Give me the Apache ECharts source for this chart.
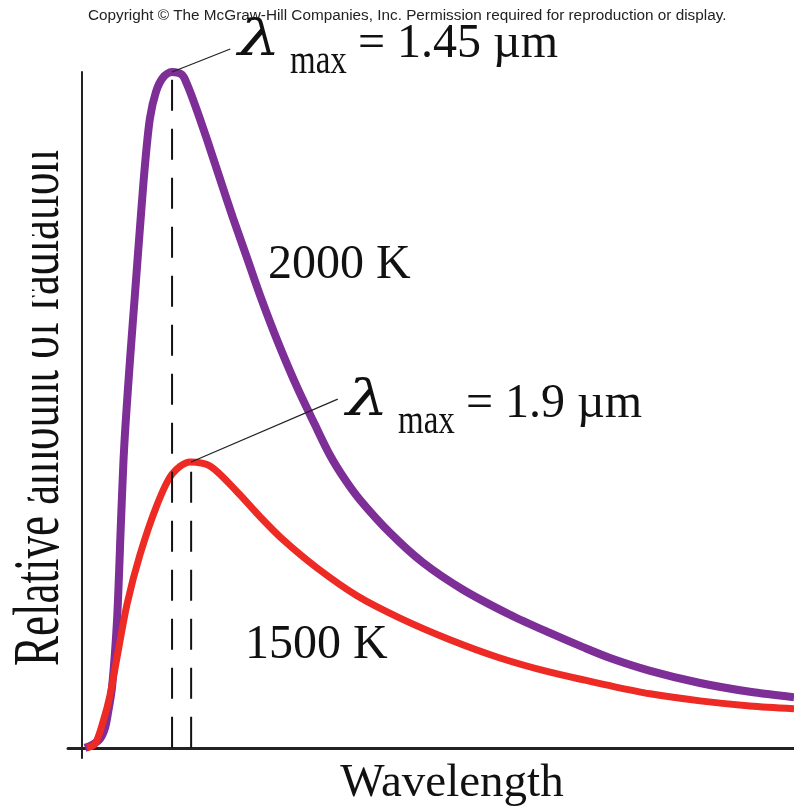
<!DOCTYPE html>
<html lang="en">
<head>
<meta charset="UTF-8">
<title>Blackbody radiation</title>
<script src="https://cdn.jsdelivr.net/npm/echarts@6.0.0/dist/echarts.min.js"></script>
<style>
    html, body { margin: 0; padding: 0; background: #fff; }
    #main { width: 794px; height: 808px; }
</style>
</head>
<body>
<div id="main"></div>
<script>
    // wavelength in arbitrary units (0 = origin), relative amount (2000 K peak = 100)
    var x2000 = [0.39, 1.38, 2.5, 3.2, 3.62, 4.19, 4.89, 5.45, 5.8, 6.08, 6.71, 7.42, 8.12, 8.82, 9.52, 10.37, 11.35, 12.62, 14.0, 14.72, 15.85, 17.53, 19.35, 21.18, 23.15, 24.97, 27.36, 30.17, 32.7, 34.81, 36.92, 39.02, 43.25, 47.88, 53.5, 60.1, 65.7, 70.35, 74.15, 79.8, 86.8, 93.8, 100];
    var y2000 = [0, 0.44, 1.33, 2.96, 5.18, 9.0, 18.9, 33.7, 42.6, 47.8, 57.4, 67.3, 77.1, 86.3, 93.2, 97.1, 99.2, 100, 99.6, 98.2, 95.1, 90.0, 84.2, 78.4, 72.5, 67.0, 60.4, 53.4, 47.8, 43.3, 39.7, 36.7, 31.8, 27.4, 23.4, 19.7, 17.0, 14.9, 13.3, 11.4, 9.6, 8.3, 7.5];
    var x1500 = [0.67, 1.8, 2.92, 3.91, 5.03, 6.3, 8.12, 10.51, 12.62, 15.15, 17.95, 21.75, 24.98, 28.21, 33.0, 38.6, 44.64, 51.67, 58.7, 65.72, 74.15, 79.77, 86.8, 93.8, 100];
    var y1500 = [0, 0.59, 3.85, 7.84, 14.2, 21.3, 28.6, 35.95, 40.5, 42.3, 41.7, 37.9, 34.2, 30.8, 26.6, 22.5, 19.2, 16.0, 13.3, 11.2, 9.2, 8.0, 6.95, 6.2, 5.8];

    // lambda max of each curve and the curve height there
    var peakX = [12.62, 15.3];
    var peakY = [100, 42.3];
    // far end of the thin pointer lines
    var pointerEnd = [[20.8, 103.4], [35.9, 51.6]];

    var colors = ['#7d2e97', '#ee2a25'];

    function pairs(xs, ys) {
        var out = [];
        for (var i = 0; i < xs.length; i++) {
            out.push([xs[i], ys[i]]);
        }
        return out;
    }

    var chart = echarts.init(document.getElementById('main'));

    var series = [
        {
            name: '2000 K',
            type: 'line',
            data: pairs(x2000, y2000),
            smooth: 0.3,
            symbol: 'none',
            lineStyle: {color: colors[0], width: 8},
            z: 2
        },
        {
            name: '1500 K',
            type: 'line',
            data: pairs(x1500, y1500),
            smooth: 0.3,
            symbol: 'none',
            lineStyle: {color: colors[1], width: 7},
            z: 3
        }
    ];
    // dashed drop lines and pointer lines
    for (var i = 0; i < peakX.length; i++) {
        series.push({
            type: 'line',
            data: [[peakX[i], 0], [peakX[i], peakY[i]]],
            symbol: 'none',
            silent: true,
            lineStyle: {color: '#111', width: 2, type: [31, 18]},
            z: 4
        });
        series.push({
            type: 'line',
            data: [[peakX[i], peakY[i]], pointerEnd[i]],
            symbol: 'none',
            silent: true,
            clip: false,
            lineStyle: {color: '#222', width: 1.2},
            z: 5
        });
    }

    var serif = '"Liberation Serif", "Times New Roman", serif';

    function lambdaLabel(left, baseline, value) {
        // λ, "max" (lowered) and the value as three texts
        return [
            {type: 'text', x: left, y: baseline - 18, scaleX: 1.35, z: 10,
                style: {text: 'λ', font: 'italic 50px "DejaVu Serif", serif', fill: '#111', verticalAlign: 'middle'}},
            {type: 'text', x: left + 52, y: baseline + 2, scaleY: 1.3, z: 10,
                style: {text: 'max', font: '33px ' + serif, fill: '#111', verticalAlign: 'middle'}},
            {type: 'text', x: left + 120, y: baseline - 16, z: 10,
                style: {text: '= ' + value, font: '48px ' + serif, fill: '#111', verticalAlign: 'middle'}}
        ];
    }

    var graphic = [
        {type: 'text', x: 88, y: 16, z: 10,
            style: {text: 'Copyright © The McGraw-Hill Companies, Inc. Permission required for reproduction or display.',
                font: '15.3px "Liberation Sans", Arial, sans-serif', fill: '#222', verticalAlign: 'middle'}},
        {type: 'text', x: 268, y: 265, z: 10,
            style: {text: '2000 K', font: '48px ' + serif, fill: '#111', verticalAlign: 'middle'}},
        {type: 'text', x: 245, y: 645, z: 10,
            style: {text: '1500 K', font: '48px ' + serif, fill: '#111', verticalAlign: 'middle'}},
        {type: 'text', x: 452, y: 784, z: 10,
            style: {text: 'Wavelength', font: '47px ' + serif, fill: '#111', align: 'center', verticalAlign: 'middle'}},
        {type: 'text', x: 41, y: 408, rotation: Math.PI / 2, scaleY: 1.45, z: 10,
            style: {text: 'Relative amount of radiation', font: '45px ' + serif, fill: '#111', align: 'center', verticalAlign: 'middle'}},
        // the top of the axis title is cut off in the original
        {type: 'rect', shape: {x: 0, y: 100, width: 32, height: 397}, style: {fill: '#fff'}, z: 11}
    ].concat(lambdaLabel(238, 60, '1.45 µm'), lambdaLabel(346, 420, '1.9 µm'));

    var option = {
        backgroundColor: '#fff',
        animation: false,
        grid: {left: 68, right: 0, top: 72, bottom: 50},
        xAxis: {
            type: 'value',
            min: -2,
            max: 100,
            axisLine: {onZero: true, lineStyle: {color: '#222', width: 3}},
            axisTick: {show: false},
            axisLabel: {show: false},
            splitLine: {show: false}
        },
        yAxis: {
            type: 'value',
            min: -1.5,
            max: 100,
            axisLine: {show: true, onZero: true, lineStyle: {color: '#222', width: 2}},
            axisTick: {show: false},
            axisLabel: {show: false},
            splitLine: {show: false}
        },
        graphic: graphic,
        series: series
    };
    chart.setOption(option);
</script>
</body>
</html>
